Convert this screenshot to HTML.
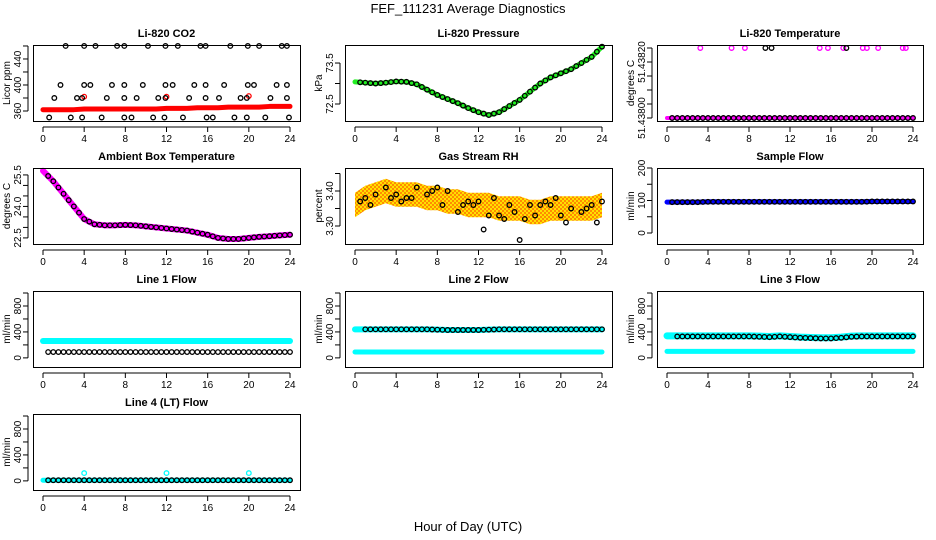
<!DOCTYPE html>
<html><head><meta charset="utf-8"><style>
body{margin:0;background:#fff}
svg{display:block;font-family:"Liberation Sans",sans-serif}
</style></head><body>
<svg id="c" width="936" height="540" viewBox="0 0 936 540">
<text x="468" y="13" font-size="13" text-anchor="middle">FEF_111231  Average Diagnostics</text>
<text x="468" y="531" font-size="13" text-anchor="middle">Hour of Day (UTC)</text>
</svg>
<script>
const hours = [0,1,2,3,4,5,6,7,8,9,10,11,12,13,14,15,16,17,18,19,20,21,22,23,24];
const halfHours = [];
for (let i = 0; i <= 48; i++) halfHours.push(i / 2);
const xTicks = [0,4,8,12,16,20,24];

const co2Band = [362,362,362,362,363,363,363,363,363,363,363,363,364,364,364,365,365,365,366,366,366,366,367,367,367];
const co2PtsX = [2.2,4.0,5.1,7.2,7.9,10.2,11.9,13.1,15.3,15.8,18.2,19.9,21.0,23.2,23.7, 1.7,4.0,4.6,6.7,7.9,9.7,11.9,12.6,14.7,15.8,17.6,19.9,20.5,22.7,23.7, 1.1,3.3,3.8,6.2,7.9,9.1,11.2,11.9,14.2,15.8,17.1,19.2,19.8,22.1,23.7, 0.6,2.7,3.8,5.7,7.9,8.6,10.7,11.8,13.6,15.9,16.5,18.6,19.8,21.6,23.9];
const co2PtsY = [460,460,460,460,460,460,460,460,460,460,460,460,460,460,460, 400,400,400,400,400,400,400,400,400,400,400,400,400,400,400, 380,380,380,380,380,380,380,380,380,380,380,380,380,380,380, 350,350,350,350,350,350,350,350,350,350,350,350,350,350,350];
const co2OutX = [4,12,20];
const co2OutY = [382,382,383];

const pressBand = [73.04,73.02,73.0,73.02,73.05,73.04,72.98,72.85,72.72,72.62,72.52,72.4,72.3,72.23,72.3,72.45,72.6,72.8,73.0,73.15,73.25,73.35,73.5,73.65,73.9];

const tempBand = [0,0,0,0,0,0,0,0,0,0,0,0,0,0,0,0,0,0,0,0,0,0,0,0,0];
const tempTopMag = [3.25,6.3,7.6,14.9,15.7,17.2,19.1,19.5,20.6,23.0,23.3];
const tempTopBlack = [9.6,10.2,17.5];

const ambBand = [25.7,25.2,24.6,24.0,23.4,23.15,23.1,23.1,23.12,23.1,23.05,23.0,22.95,22.9,22.85,22.75,22.65,22.5,22.45,22.45,22.5,22.55,22.58,22.62,22.65];

const rhBand = [3.36,3.38,3.39,3.40,3.39,3.39,3.39,3.38,3.38,3.37,3.37,3.36,3.36,3.36,3.35,3.35,3.35,3.34,3.34,3.35,3.35,3.35,3.35,3.35,3.36];
const rhPtsX = [0.5,1,1.5,2,3,3.5,4,4.5,5,5.5,6,7,7.5,8,8.5,9,10,10.5,11,11.5,12,12.5,13,13.5,14,14.5,15,15.5,16,16.5,17,17.5,18,18.5,19,19.5,20,20.5,21,22,22.5,23,23.5,24];
const rhPtsY = [3.37,3.38,3.36,3.39,3.41,3.38,3.39,3.37,3.38,3.38,3.41,3.39,3.40,3.41,3.36,3.40,3.34,3.36,3.37,3.36,3.37,3.29,3.33,3.38,3.33,3.32,3.36,3.34,3.26,3.32,3.36,3.33,3.36,3.37,3.36,3.38,3.33,3.31,3.35,3.34,3.35,3.36,3.31,3.37];

const sampleBand = [95,95,95,95,96,96,96,96,96,96,96,96,96,96,96,96,96,96,96,96,97,97,97,97,97];
const line1Cyan = [260,260,260,260,260,260,260,260,260,260,260,260,260,260,260,260,260,260,260,260,260,260,260,260,260];
const line1Black = [90,90,90,90,90,90,90,90,90,90,90,90,90,90,90,90,90,90,90,90,90,90,90,90,90];
const line2Cyan = [440,440,440,440,440,440,440,440,435,430,430,430,430,435,440,440,440,440,440,440,440,440,440,440,440];
const line2Cyan2 = [90,90,90,90,90,90,90,90,90,90,90,90,90,90,90,90,90,90,90,90,90,90,90,90,90];
const line3Cyan = [340,340,340,340,340,340,340,340,340,335,330,340,330,320,315,310,310,320,335,340,340,340,340,340,340];
const line3Cyan2 = [100,100,100,100,100,100,100,100,100,100,100,100,100,100,100,100,100,100,100,100,100,100,100,100,100];
const line4Cyan = [10,10,10,10,10,10,10,10,10,10,10,10,10,10,10,10,10,10,10,10,10,10,10,10,10];
const line4OutX = [4,12,20];
const line4OutY = [120,120,120];

const NS = "http://www.w3.org/2000/svg";
const svg = document.getElementById('c');
function mk(tag, attrs, parent) {
  const e = document.createElementNS(NS, tag);
  for (const k in attrs) e.setAttribute(k, attrs[k]);
  (parent || svg).appendChild(e);
  return e;
}
const defs = mk('defs', {});
const pat = mk('pattern', {id:'rhpat', width:'4', height:'4', patternUnits:'userSpaceOnUse'}, defs);
mk('rect', {width:4, height:4, fill:'#ffe000'}, pat);
mk('rect', {width:2, height:2, fill:'#ff8c00'}, pat);
mk('rect', {x:2, y:2, width:2, height:2, fill:'#ff8c00'}, pat);

const cols = [[33,300],[345,612],[657,923]];
const rowsTop = [45,168,291,414];
const BH = 76;

function panel(slug, title, ylab, c, r, ymin, ymax, yTicks, yLabs, draw) {
  const L = cols[c][0], R = cols[c][1], T = rowsTop[r], B = T + BH;
  const g = mk('g', {});
  
  
  const sx = h => L + 10 + (h / 24) * (R - L - 20);
  const sy = v => B - (v - ymin) / (ymax - ymin) * BH;
  const t = mk('text', {x:(L+R)/2, y:T-8, 'font-size':11, 'font-weight':'bold', 'text-anchor':'middle'}, g);
  t.textContent = title;
  
  
  const yl = mk('text', {x:0, y:0, 'font-size':10, 'text-anchor':'middle', transform:`translate(${L-23},${(T+B)/2}) rotate(-90)`}, g);
  yl.textContent = ylab;
  
  
  const plot = mk('g', {}, g);
  draw(plot, sx, sy);
  mk('rect', {x:L+0.5, y:T+0.5, width:R-L, height:BH, fill:'none', stroke:'#000', 'stroke-width':1}, g);
  mk('line', {x1:sx(0), x2:sx(24), y1:B+6, y2:B+6, stroke:'#000'}, g);
  xTicks.forEach(h => {
    mk('line', {x1:sx(h), x2:sx(h), y1:B+6, y2:B+11, stroke:'#000'}, g);
    const tl = mk('text', {x:sx(h), y:B+21, 'font-size':10, 'text-anchor':'middle'}, g);
    tl.textContent = h;
    
    
  });
  mk('line', {x1:L-5, x2:L-5, y1:sy(yTicks[0]), y2:sy(yTicks[yTicks.length-1]), stroke:'#000'}, g);
  yTicks.forEach((v, i) => {
    mk('line', {x1:L-10, x2:L-5, y1:sy(v), y2:sy(v), stroke:'#000'}, g);
    if (yLabs[i] !== '') {
      const tl = mk('text', {x:0, y:0, 'font-size':10, 'text-anchor':'middle', transform:`translate(${L-12},${sy(v)}) rotate(-90)`}, g);
      tl.textContent = yLabs[i];
      
      
    }
  });
}
function band(g, sx, sy, xs, ys, color, w, name) {
  const p = mk('polyline', {points: xs.map((x,i)=>sx(x)+','+sy(ys[i])).join(' '), fill:'none', stroke:color, 'stroke-width':w, 'stroke-linejoin':'round', 'stroke-linecap':'round'}, g);
  
  
}
function pts(g, sx, sy, xs, ys, color, name) {
  xs.forEach((x,i) => {
    const c = mk('circle', {cx:sx(x), cy:sy(ys[i]), r:2.3, fill:'none', stroke:color, 'stroke-width':1.3}, g);
    
    
  });
}
function interpAt(arr, h) { const i = Math.min(23, Math.floor(h)); const f = h - i; return arr[i] + (arr[i+1]-arr[i])*f; }

panel('co2', 'Li-820 CO2', 'Licor ppm', 0, 0, 344.6, 461.5, [360,380,400,420,440,460], ['360','','400','','440',''], (g,sx,sy) => {
  band(g, sx, sy, hours, co2Band, '#ff0000', 5, 'co2-series');
  pts(g, sx, sy, co2OutX, co2OutY, '#ff0000', 'co2-outlier');
  pts(g, sx, sy, co2PtsX, co2PtsY, '#000', 'co2-point');
});
panel('pressure', 'Li-820 Pressure', 'kPa', 1, 0, 72.085, 73.94, [72.5,73.0,73.5], ['72.5','','73.5'], (g,sx,sy) => {
  band(g, sx, sy, hours, pressBand, '#22ee22', 5, 'pressure-series');
  pts(g, sx, sy, halfHours.slice(1), halfHours.slice(1).map(h=>interpAt(pressBand,h)), '#000', 'pressure-point');
});
panel('licor-temp', 'Li-820 Temperature', 'degrees C', 2, 0, -0.086, 2.086, [0,0.4,0.8,1.2,1.6,2.0], ['51.43800','','','','51.43820',''], (g,sx,sy) => {
  band(g, sx, sy, hours, tempBand, '#ff00ff', 4, 'licor-temp-series');
  pts(g, sx, sy, tempTopMag, tempTopMag.map(()=>2), '#ff00ff', 'licor-temp-outlier');
  pts(g, sx, sy, tempTopBlack, tempTopBlack.map(()=>2), '#000', 'licor-temp-point');
  pts(g, sx, sy, halfHours.slice(1), halfHours.slice(1).map(()=>0), '#000', 'licor-temp-point');
});
panel('ambient', 'Ambient Box Temperature', 'degrees C', 0, 1, 22.21, 25.83, [22.5,23,23.5,24,24.5,25,25.5], ['22.5','','','24.0','','','25.5'], (g,sx,sy) => {
  band(g, sx, sy, hours, ambBand, '#ff00ff', 6, 'ambient-series');
  pts(g, sx, sy, halfHours.slice(1), halfHours.slice(1).map(h=>interpAt(ambBand,h)), '#000', 'ambient-point');
});
panel('rh', 'Gas Stream RH', 'percent', 1, 1, 3.2486, 3.4657, [3.30,3.35,3.40,3.45], ['3.30','','3.40',''], (g,sx,sy) => {
  const up = hours.map((h,i)=>sx(h)+','+sy(rhBand[i]+0.035));
  const dn = hours.map((h,i)=>sx(h)+','+sy(rhBand[i]-0.035)).reverse();
  const p = mk('polygon', {points: up.concat(dn).join(' '), fill:'url(#rhpat)'}, g);
  
  
  pts(g, sx, sy, rhPtsX, rhPtsY, '#000', 'rh-point');
});
panel('sample-flow', 'Sample Flow', 'ml/min', 2, 1, -33.8, 200, [0,50,100,150,200], ['0','','100','','200'], (g,sx,sy) => {
  band(g, sx, sy, hours, sampleBand, '#0000ff', 5, 'sample-flow-series');
  pts(g, sx, sy, halfHours.slice(1), halfHours.slice(1).map(h=>interpAt(sampleBand,h)), '#000', 'sample-flow-point');
});
const fT = [0,200,400,600,800,1000], fL = ['0','','400','','800',''];
panel('line1', 'Line 1 Flow', 'ml/min', 0, 2, -140.6, 1031, fT, fL, (g,sx,sy) => {
  band(g, sx, sy, hours, line1Cyan, '#00ffff', 6, 'line1-cyan-series');
  pts(g, sx, sy, halfHours.slice(1), halfHours.slice(1).map(h=>interpAt(line1Black,h)), '#000', 'line1-point');
});
panel('line2', 'Line 2 Flow', 'ml/min', 1, 2, -140.6, 1031, fT, fL, (g,sx,sy) => {
  band(g, sx, sy, hours, line2Cyan, '#00ffff', 6, 'line2-cyan-series');
  band(g, sx, sy, hours, line2Cyan2, '#00ffff', 5, 'line2-cyan-low-series');
  pts(g, sx, sy, halfHours.slice(2), halfHours.slice(2).map(h=>interpAt(line2Cyan,h)), '#000', 'line2-point');
});
panel('line3', 'Line 3 Flow', 'ml/min', 2, 2, -140.6, 1031, fT, fL, (g,sx,sy) => {
  band(g, sx, sy, hours, line3Cyan, '#00ffff', 7, 'line3-cyan-series');
  band(g, sx, sy, hours, line3Cyan2, '#00ffff', 5, 'line3-cyan-low-series');
  pts(g, sx, sy, halfHours.slice(2), halfHours.slice(2).map(h=>interpAt(line3Cyan,h)-10), '#000', 'line3-point');
});
panel('line4', 'Line 4 (LT) Flow', 'ml/min', 0, 3, -140.6, 1031, fT, fL, (g,sx,sy) => {
  band(g, sx, sy, hours, line4Cyan, '#00ffff', 5, 'line4-cyan-series');
  pts(g, sx, sy, line4OutX, line4OutY, '#00ffff', 'line4-outlier');
  pts(g, sx, sy, halfHours.slice(1), halfHours.slice(1).map(h=>interpAt(line4Cyan,h)), '#000', 'line4-point');
});
</script>
</body></html>
